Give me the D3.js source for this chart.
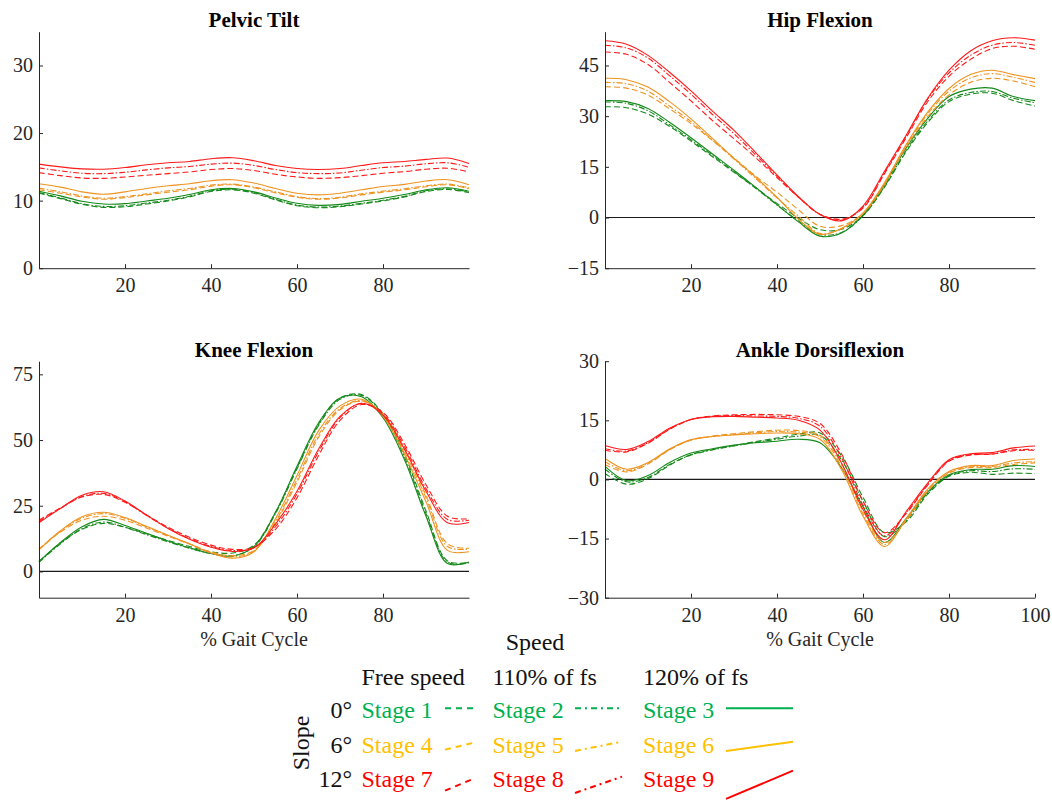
<!DOCTYPE html>
<html>
<head>
<meta charset="utf-8">
<script src="https://cdn.jsdelivr.net/npm/d3@7"></script>
<style>
    body { margin: 0; background: #fff; }
    svg { display: block; font-family: "Liberation Serif", "Times New Roman", serif; }
</style>
</head>
<body>
<script>
// % gait cycle sample points (shared by every curve)
var gaitCycle = [0, 5, 10, 15, 20, 25, 30, 35, 40, 45, 50, 55, 60, 65, 70, 75, 80, 85, 90, 95, 100];

var stageNames = ['Stage 1', 'Stage 2', 'Stage 3', 'Stage 4', 'Stage 5', 'Stage 6', 'Stage 7', 'Stage 8', 'Stage 9'];
var slopeLabels = ['0°', '6°', '12°'];
var speedLabels = ['Free speed', '110% of fs', '120% of fs'];

// one row per stage (1..9), degrees
var pelvicTilt = [
    [11.1, 10.3, 9.45, 9.0, 9.1, 9.5, 9.95, 10.55, 11.35, 11.6, 11.1, 10.1, 9.25, 8.95, 9.1, 9.5, 9.95, 10.55, 11.35, 11.65, 11.2],
    [11.2, 10.4, 9.55, 9.15, 9.25, 9.65, 10.05, 10.65, 11.45, 11.7, 11.2, 10.2, 9.35, 9.05, 9.2, 9.6, 10.05, 10.65, 11.45, 11.75, 11.3],
    [11.4, 10.7, 9.9, 9.5, 9.55, 9.95, 10.35, 10.9, 11.6, 11.8, 11.3, 10.4, 9.6, 9.3, 9.45, 9.9, 10.35, 10.9, 11.6, 11.9, 11.4],
    [11.6, 11.1, 10.55, 10.2, 10.45, 10.85, 11.25, 11.6, 12.15, 12.35, 11.9, 11.15, 10.5, 10.2, 10.4, 10.85, 11.25, 11.6, 12.05, 12.35, 11.75],
    [11.85, 11.3, 10.7, 10.35, 10.6, 11.0, 11.45, 11.8, 12.3, 12.45, 12.0, 11.3, 10.6, 10.3, 10.5, 11.0, 11.4, 11.75, 12.2, 12.45, 11.9],
    [12.5, 12.0, 11.3, 10.95, 11.3, 11.8, 12.2, 12.5, 12.95, 13.1, 12.6, 11.8, 11.1, 10.85, 11.1, 11.6, 12.1, 12.4, 12.9, 13.1, 12.35],
    [14.15, 13.7, 13.35, 13.3, 13.5, 13.75, 14.0, 14.25, 14.6, 14.75, 14.45, 13.9, 13.5, 13.3, 13.4, 13.7, 14.05, 14.3, 14.65, 14.8, 14.25],
    [14.85, 14.4, 14.05, 14.0, 14.2, 14.55, 14.85, 15.05, 15.4, 15.55, 15.2, 14.6, 14.15, 14.0, 14.1, 14.5, 14.9, 15.1, 15.45, 15.6, 14.95],
    [15.4, 15.0, 14.7, 14.65, 14.9, 15.3, 15.6, 15.8, 16.2, 16.35, 15.9, 15.2, 14.75, 14.6, 14.75, 15.2, 15.6, 15.8, 16.1, 16.3, 15.5]
];

var hipFlexion = [
    [32.8, 32.5, 30.6, 27.0, 22.6, 18.0, 13.4, 8.8, 4.2, -0.2, -3.6, -3.5, 0.6, 9.0, 19.4, 28.0, 34.3, 36.5, 36.8, 34.6, 33.0],
    [34.2, 33.8, 31.6, 27.5, 23.0, 18.4, 13.6, 8.7, 3.7, -1.0, -5.0, -4.4, 0.5, 9.2, 19.8, 28.5, 34.8, 37.0, 37.3, 35.3, 34.0],
    [34.6, 34.3, 32.3, 28.2, 23.6, 18.8, 14.0, 9.0, 3.8, -1.3, -5.5, -4.6, 0.7, 9.8, 20.5, 29.3, 35.8, 38.0, 38.3, 35.8, 34.6],
    [38.7, 38.3, 36.2, 32.2, 27.8, 22.8, 17.6, 12.3, 7.5, 2.3, -2.6, -2.4, 1.2, 9.8, 20.8, 29.8, 36.3, 40.0, 41.2, 40.4, 38.7],
    [40.0, 39.6, 37.4, 33.0, 28.4, 22.9, 17.3, 11.6, 5.8, 0.4, -4.7, -3.3, 1.2, 10.0, 21.2, 30.6, 37.4, 41.3, 42.6, 41.5, 40.0],
    [41.2, 40.8, 38.6, 34.3, 29.2, 23.4, 17.5, 12.0, 6.0, -0.5, -5.0, -3.2, 1.3, 10.3, 21.5, 31.1, 38.2, 42.3, 43.6, 42.3, 41.1],
    [49.0, 48.3, 45.3, 40.0, 34.5, 28.7, 23.3, 17.8, 11.8, 6.0, 1.0, -0.5, 2.8, 13.0, 23.5, 34.2, 41.8, 46.8, 50.0, 50.7, 49.8],
    [51.0, 50.2, 47.2, 42.0, 36.5, 30.5, 24.8, 18.6, 12.2, 6.0, 0.9, -0.8, 3.0, 13.3, 24.0, 35.0, 42.8, 48.0, 51.0, 51.8, 51.0],
    [52.3, 51.3, 48.0, 43.0, 37.5, 31.5, 25.8, 19.3, 12.6, 6.2, 0.9, -1.0, 3.4, 13.7, 24.3, 35.2, 43.6, 49.3, 52.3, 53.2, 52.5]
];

var kneeFlexion = [
    [3.8, 10.8, 16.0, 18.3, 16.8, 14.3, 11.8, 9.5, 7.5, 7.0, 10.0, 22.5, 39.5, 56.0, 66.0, 67.3, 60.0, 44.5, 23.0, 4.0, 3.5],
    [3.5, 10.5, 16.3, 18.8, 16.8, 14.0, 11.3, 8.8, 6.8, 6.0, 9.3, 22.0, 39.0, 55.5, 65.5, 67.0, 59.5, 43.5, 22.0, 3.5, 3.3],
    [3.7, 11.0, 17.0, 19.8, 17.5, 14.5, 11.6, 9.0, 6.8, 5.8, 9.5, 22.5, 40.0, 56.5, 66.0, 66.5, 58.5, 42.5, 21.0, 3.0, 3.6],
    [8.5, 15.0, 19.5, 21.0, 19.5, 16.5, 13.4, 10.4, 7.4, 6.0, 8.0, 18.5, 34.0, 51.0, 61.5, 64.8, 60.0, 46.5, 29.0, 10.5, 8.8],
    [8.5, 15.3, 20.3, 22.0, 20.2, 17.0, 13.7, 10.5, 7.2, 5.5, 7.8, 19.0, 35.0, 52.0, 62.0, 65.0, 59.5, 45.5, 28.0, 9.5, 8.5],
    [8.2, 15.5, 20.8, 22.5, 20.5, 17.2, 13.8, 10.5, 7.0, 5.0, 7.5, 20.0, 36.5, 53.5, 63.0, 65.5, 59.0, 44.5, 26.5, 8.0, 7.5],
    [19.5, 24.2, 28.3, 29.3, 26.3, 21.5, 16.8, 13.0, 10.0, 8.4, 9.2, 16.0, 28.0, 44.0, 57.5, 63.5, 60.5, 48.5, 33.0, 21.0, 20.0],
    [19.0, 24.0, 28.5, 29.7, 26.5, 21.3, 16.5, 12.5, 9.5, 8.0, 9.0, 17.0, 29.5, 45.5, 58.5, 64.0, 60.0, 47.5, 31.5, 19.8, 19.5],
    [18.5, 24.0, 29.0, 30.3, 26.8, 21.5, 16.3, 12.2, 9.2, 7.6, 9.0, 18.0, 30.5, 46.5, 59.0, 64.0, 59.5, 46.5, 30.5, 18.5, 18.6]
];

var ankleDorsiflexion = [
    [1.5, -1.2, 0.2, 3.6, 6.3, 7.6, 8.6, 9.6, 10.5, 11.5, 11.8, 6.0, -4.5, -13.5, -10.8, -3.8, 0.8, 1.8, 1.3, 1.6, 1.5],
    [2.6, -0.6, 0.5, 3.8, 6.2, 7.5, 8.5, 9.4, 10.2, 11.0, 11.2, 5.0, -5.5, -14.5, -10.5, -3.5, 1.0, 2.2, 2.0, 2.7, 2.6],
    [3.3, -0.3, 1.0, 4.3, 6.7, 7.8, 8.7, 9.3, 9.7, 10.2, 9.3, 3.0, -6.9, -16.0, -10.0, -3.2, 1.2, 2.5, 2.6, 3.5, 3.3],
    [3.8, 1.9, 3.9, 7.5, 10.0, 11.0, 11.6, 12.1, 12.5, 12.4, 11.2, 4.0, -8.0, -16.0, -10.5, -3.0, 1.6, 3.0, 3.0, 3.8, 4.2],
    [4.5, 2.2, 4.1, 7.6, 10.0, 10.9, 11.4, 11.8, 12.2, 12.0, 10.8, 3.3, -8.7, -16.5, -10.3, -2.8, 1.8, 3.2, 3.3, 4.2, 4.5],
    [5.3, 2.6, 4.3, 7.7, 10.1, 10.9, 11.3, 11.6, 11.8, 11.6, 10.2, 2.5, -9.3, -17.0, -10.0, -2.5, 2.0, 3.5, 3.5, 4.8, 5.2],
    [7.4, 7.0, 9.2, 12.7, 15.2, 16.1, 16.4, 16.5, 16.4, 16.0, 14.2, 6.5, -5.5, -13.5, -8.7, -1.5, 4.6, 6.2, 6.4, 7.3, 7.4],
    [7.8, 7.2, 9.3, 12.8, 15.2, 16.0, 16.2, 16.1, 16.0, 15.5, 13.5, 5.5, -6.5, -14.3, -8.5, -1.3, 4.8, 6.3, 6.5, 7.5, 7.6],
    [8.6, 7.6, 9.6, 13.0, 15.2, 15.9, 16.0, 15.8, 15.6, 15.0, 12.5, 4.2, -7.6, -15.3, -8.2, -1.0, 5.0, 6.5, 6.8, 8.0, 8.5]
];

var panelTitles = ['Pelvic Tilt', 'Hip Flexion', 'Knee Flexion', 'Ankle Dorsiflexion'];
var panelData = [pelvicTilt, hipFlexion, kneeFlexion, ankleDorsiflexion];
var yDomains = [[0, 35], [-15, 55], [-10, 80], [-30, 30]];
var yTickValues = [[0, 10, 20, 30], [-15, 0, 15, 30, 45], [0, 25, 50, 75], [-30, -15, 0, 15, 30]];
var xTickValues = [[20, 40, 60, 80], [20, 40, 60, 80], [20, 40, 60, 80], [20, 40, 60, 80, 100]];

//Layout
var width = 1052, height = 802;
var panelWidth = 430, panelHeight = 236.5;
var panelPos = [{x: 39, y: 31.7}, {x: 605, y: 31.7}, {x: 39, y: 361.2}, {x: 605, y: 361.2}];

var axisColor = '#262626';
var plotColors = ['#15891a', '#ee9320', '#ff1a1a'];   // by slope
var legendColors = ['#00b050', '#ffc000', '#ff0000'];
var plotDash = ['6,3', '6,2,1.5,2', null];            // by speed
var legendDash = ['6,5', '6,4,2,4', null];

var svg = d3.select('body')
    .append('svg')
    .attr('width', width)
    .attr('height', height);

function drawPanel(p) {
    var pos = panelPos[p];
    var g = svg.append('g')
        .attr('transform', 'translate(' + pos.x + ',' + pos.y + ')');

    var xScale = d3.scaleLinear().domain([0, 100]).range([0, panelWidth]);
    var yScale = d3.scaleLinear().domain(yDomains[p]).range([panelHeight, 0]);

    //zero reference
    if (yDomains[p][0] < 0) {
        g.append('line')
            .attr('x1', xScale(0))
            .attr('x2', xScale(100))
            .attr('y1', yScale(0))
            .attr('y2', yScale(0))
            .attr('stroke', '#1a1a1a')
            .attr('stroke-width', 1.2);
    }

    var line = d3.line()
        .x(function (d, i) { return xScale(gaitCycle[i]); })
        .y(function (d) { return yScale(d); })
        .curve(d3.curveCatmullRom.alpha(0.5));

    g.selectAll('path.stage')
        .data(panelData[p])
        .enter().append('path')
        .attr('class', 'stage')
        .attr('d', line)
        .attr('fill', 'none')
        .attr('stroke', function (d, s) { return plotColors[Math.floor(s / 3)]; })
        .attr('stroke-width', 1.1)
        .attr('stroke-dasharray', function (d, s) { return plotDash[s % 3]; });

    //axes
    var xAxis = g.append('g')
        .attr('transform', 'translate(0,' + panelHeight + ')')
        .call(d3.axisBottom(xScale).tickValues(xTickValues[p]).tickSizeInner(-4).tickSizeOuter(0).tickPadding(10));
    var yAxis = g.append('g')
        .call(d3.axisLeft(yScale).tickValues(yTickValues[p]).tickSizeInner(-4).tickSizeOuter(0).tickPadding(6));

    [xAxis, yAxis].forEach(function (ax) {
        ax.select('.domain').attr('stroke', axisColor);
        ax.selectAll('.tick line').attr('stroke', axisColor);
        ax.selectAll('.tick text')
            .attr('fill', axisColor)
            .style('font-family', '"Liberation Serif", "Times New Roman", serif')
            .style('font-size', '20px');
    });

    //title
    g.append('text')
        .attr('x', panelWidth / 2)
        .attr('y', -4.5)
        .attr('text-anchor', 'middle')
        .attr('font-weight', 'bold')
        .attr('font-size', 21)
        .attr('fill', '#000')
        .text(panelTitles[p]);

    if (p >= 2) {
        g.append('text')
            .attr('x', panelWidth / 2)
            .attr('y', panelHeight + 48.5)
            .attr('text-anchor', 'middle')
            .attr('font-size', 20)
            .attr('fill', axisColor)
            .text('% Gait Cycle');
    }
}

for (var p = 0; p < 4; p++) {
    drawPanel(p);
}

//legend
function renderLegend() {
    var colX = [361.5, 492.5, 643];
    var rowBase = [717.5, 753, 786.5];
    var lineX = [[445, 473], [575, 622], [726, 793]];
    var lineMid = [708.3, 746.3, 784.8];
    var lineRise = [[0, 0, 0], [6.7, 9.3, 9.3], [11.7, 16.3, 28.3]];

    var lg = svg.append('g')
        .attr('font-size', 24)
        .attr('fill', '#111');

    lg.append('text')
        .attr('x', 535)
        .attr('y', 650)
        .attr('text-anchor', 'middle')
        .text('Speed');

    lg.selectAll('text.speed')
        .data(speedLabels)
        .enter().append('text')
        .attr('class', 'speed')
        .attr('x', function (d, j) { return colX[j]; })
        .attr('y', 685)
        .text(function (d) { return d; });

    lg.selectAll('text.slope')
        .data(slopeLabels)
        .enter().append('text')
        .attr('class', 'slope')
        .attr('x', 352)
        .attr('y', function (d, i) { return rowBase[i]; })
        .attr('text-anchor', 'end')
        .text(function (d) { return d; });

    lg.append('text')
        .attr('transform', 'translate(309,743) rotate(-90)')
        .attr('text-anchor', 'middle')
        .text('Slope');

    lg.selectAll('text.stage')
        .data(stageNames)
        .enter().append('text')
        .attr('class', 'stage')
        .attr('x', function (d, s) { return colX[s % 3]; })
        .attr('y', function (d, s) { return rowBase[Math.floor(s / 3)]; })
        .attr('fill', function (d, s) { return legendColors[Math.floor(s / 3)]; })
        .text(function (d) { return d; });

    lg.selectAll('line.sample')
        .data(stageNames)
        .enter().append('line')
        .attr('class', 'sample')
        .attr('x1', function (d, s) { return lineX[s % 3][0]; })
        .attr('x2', function (d, s) { return lineX[s % 3][1]; })
        .attr('y1', function (d, s) { var r = Math.floor(s / 3); return lineMid[r] + lineRise[r][s % 3] / 2; })
        .attr('y2', function (d, s) { var r = Math.floor(s / 3); return lineMid[r] - lineRise[r][s % 3] / 2; })
        .attr('stroke', function (d, s) { return legendColors[Math.floor(s / 3)]; })
        .attr('stroke-width', 2)
        .attr('stroke-dasharray', function (d, s) { return legendDash[s % 3]; });
}

renderLegend();
</script>
</body>
</html>
